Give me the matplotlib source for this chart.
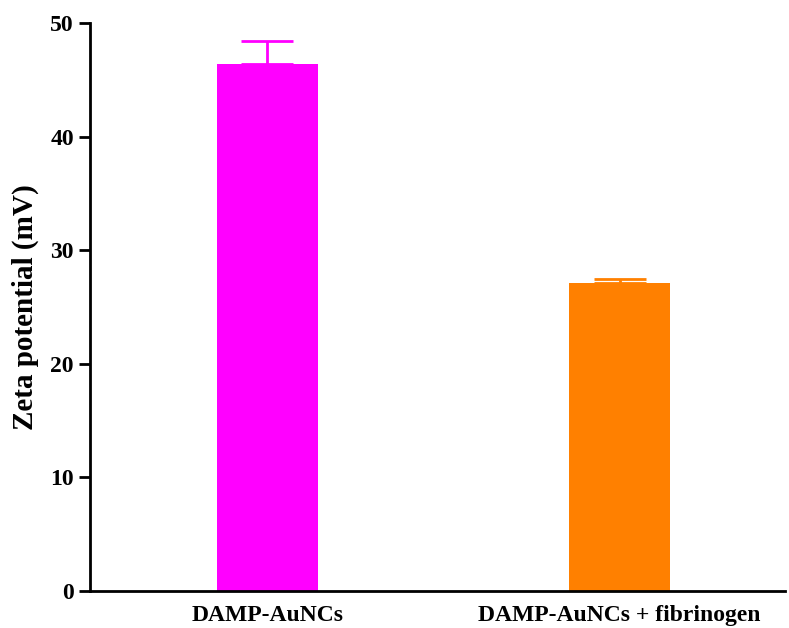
import matplotlib.pyplot as plt

# zeta potential of the two samples, mean and error
samples = ['DAMP-AuNCs', 'DAMP-AuNCs + fibrinogen']
zeta_mean = [46.4, 27.1]
zeta_err = [2.0, 0.4]
bar_colors = ['#ff00ff', '#ff8000']

plt.rcParams['font.family'] = ['Liberation Serif', 'DejaVu Serif']
plt.rcParams['font.weight'] = 'bold'

fig = plt.figure(figsize=(7.89, 6.28), dpi=100)
ax = fig.add_axes([0.114, 0.059, 0.881, 0.904])

pos = range(len(samples))
for i in pos:
    ax.bar(i, zeta_mean[i], width=0.287, color=bar_colors[i],
           yerr=[[0], [zeta_err[i]]],
           error_kw=dict(ecolor=bar_colors[i], elinewidth=2, capsize=19, capthick=2))

ax.set_xlim(-0.504, 1.47)
ax.set_ylim(0, 50)
ax.set_xticks(list(pos))
ax.set_xticklabels(samples, fontsize=17, fontweight='bold')
ax.set_yticks([0, 10, 20, 30, 40, 50])
ax.tick_params(axis='y', labelsize=17, width=2, length=8, direction='out')
ax.tick_params(axis='x', length=0, pad=10)
ax.set_ylabel('Zeta potential (mV)', fontsize=21, fontweight='bold', labelpad=8)

for s in ['top', 'right']:
    ax.spines[s].set_visible(False)
for s in ['left', 'bottom']:
    ax.spines[s].set_linewidth(2)

fig.savefig('out.png', dpi=100)
